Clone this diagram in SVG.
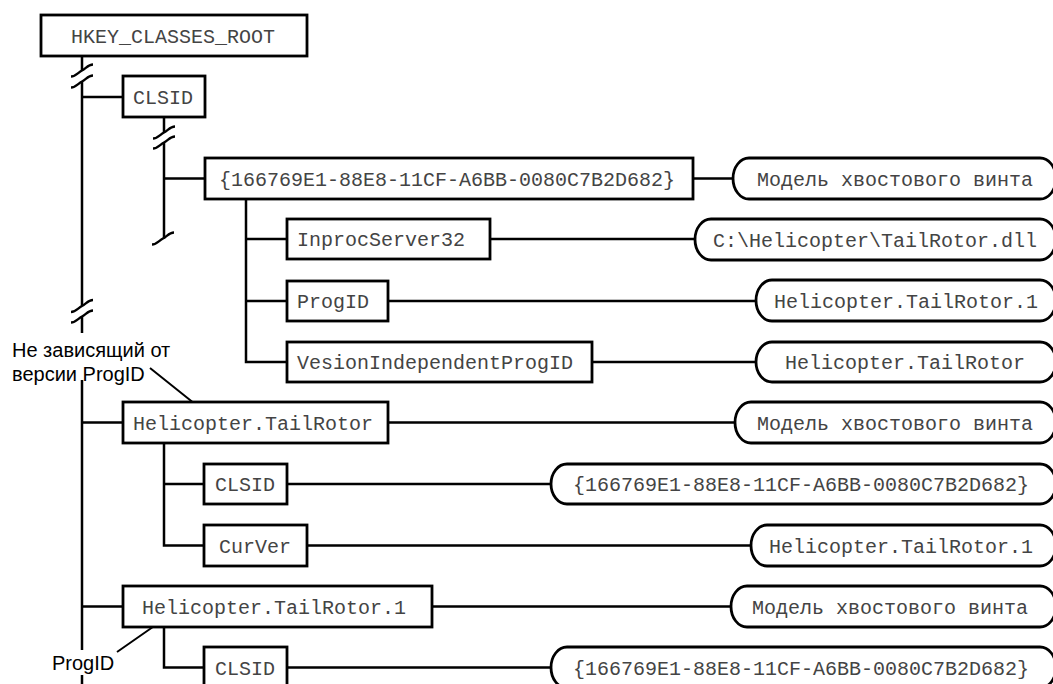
<svg xmlns="http://www.w3.org/2000/svg" width="1053" height="684" viewBox="0 0 1053 684">
<defs>
<style>
.box{fill:#fff;stroke:#000;stroke-width:2.8}
.val{fill:#fff;stroke:#000;stroke-width:2.8}
.t{font-family:"Liberation Mono","Courier New",monospace;font-size:20px;fill:#444}
.lbl{font-family:"Liberation Sans",Arial,sans-serif;font-size:20px;fill:#000}
.ln{fill:none;stroke:#000;stroke-width:2.5}
.br{fill:none;stroke:#000;stroke-width:2.3}
.ld{fill:none;stroke:#000;stroke-width:2}
</style>
<path id="brk" class="br" d="M-11,6 C-6,6 -4,2 0,0 C4,-2 6,-6 11,-6"/>
</defs>
<rect width="1053" height="684" fill="#fff"/>

<g id="connectors">
<path class="ln" d="M82,56 V70 M82,82 V306 M82,317 V333 M82,380 V650 M82,675 V684"/>
<use href="#brk" x="82" y="70.5"/>
<use href="#brk" x="82" y="81.5"/>
<use href="#brk" x="82" y="306"/>
<use href="#brk" x="82" y="316.5"/>
<path class="ln" d="M82,97 H123 M82,422.5 H123 M82,606.5 H123"/>
<path class="ln" d="M164,117 V132 M164,143 V238.5"/>
<use href="#brk" x="164" y="132.5"/>
<use href="#brk" x="164" y="142.5"/>
<use href="#brk" x="163" y="238.5"/>
<path class="ln" d="M164,178.5 H205 M693,178.5 H733"/>
<path class="ln" d="M246,199 V362 H287 M246,239 H287 M246,301 H287"/>
<path class="ln" d="M490,239 H695 M388,301 H756 M592,362 H756"/>
<path class="ln" d="M388,422.5 H735 M164,443 V545.5 H204 M164,484 H204 M287,484 H551 M307,545.5 H751"/>
<path class="ln" d="M432,606.5 H731 M164,627 V667.5 H204 M287,667.5 H551"/>
<path class="ld" d="M150,368 L200,408 M117,652 L160,622"/>
</g>

<g id="n-hkcr"><rect class="box" x="41" y="15" width="266" height="41"/><text class="t" x="71" y="42.5">HKEY_CLASSES_ROOT</text></g>
<g id="n-clsid"><rect class="box" x="123" y="76" width="82" height="41"/><text class="t" x="133" y="103.5">CLSID</text></g>
<g id="n-guid"><rect class="box" x="205" y="158" width="488" height="41"/><text class="t" x="219" y="185.5">{166769E1-88E8-11CF-A6BB-0080C7B2D682}</text></g>
<g id="n-inproc"><rect class="box" x="287" y="219" width="203" height="40"/><text class="t" x="297" y="246">InprocServer32</text></g>
<g id="n-progid"><rect class="box" x="287" y="281" width="101" height="40"/><text class="t" x="297" y="308">ProgID</text></g>
<g id="n-vip"><rect class="box" x="287" y="342" width="305" height="40"/><text class="t" x="297" y="369">VesionIndependentProgID</text></g>
<g id="n-htr"><rect class="box" x="123" y="402" width="265" height="41"/><text class="t" x="133" y="429.5">Helicopter.TailRotor</text></g>
<g id="n-clsid2"><rect class="box" x="204" y="464" width="83" height="40"/><text class="t" x="215" y="491">CLSID</text></g>
<g id="n-curver"><rect class="box" x="204" y="525" width="103" height="41"/><text class="t" x="219" y="552.5">CurVer</text></g>
<g id="n-htr1"><rect class="box" x="123" y="586" width="309" height="41"/><text class="t" x="142" y="613.5">Helicopter.TailRotor.1</text></g>
<g id="n-clsid3"><rect class="box" x="204" y="647" width="83" height="41"/><text class="t" x="215" y="674.5">CLSID</text></g>

<g id="v1"><path class="val" d="M749,158 H1040 A16 20.5 0 0 1 1040,199 H749 A16 20.5 0 0 1 749,158 Z"/><text class="t" x="757" y="185.5">Модель хвостового винта</text></g>
<g id="v2"><path class="val" d="M711,219 H1040 A16 20.5 0 0 1 1040,260 H711 A16 20.5 0 0 1 711,219 Z"/><text class="t" x="713" y="246.5">C:\Helicopter\TailRotor.dll</text></g>
<g id="v3"><path class="val" d="M772,280 H1040 A16 20.5 0 0 1 1040,321 H772 A16 20.5 0 0 1 772,280 Z"/><text class="t" x="774" y="307.5">Helicopter.TailRotor.1</text></g>
<g id="v4"><path class="val" d="M772,342 H1040 A16 20 0 0 1 1040,382 H772 A16 20 0 0 1 772,342 Z"/><text class="t" x="785" y="369">Helicopter.TailRotor</text></g>
<g id="v5"><path class="val" d="M751,402 H1040 A16 20.5 0 0 1 1040,443 H751 A16 20.5 0 0 1 751,402 Z"/><text class="t" x="757" y="429.5">Модель хвостового винта</text></g>
<g id="v6"><path class="val" d="M567,464 H1040 A16 20 0 0 1 1040,504 H567 A16 20 0 0 1 567,464 Z"/><text class="t" x="573" y="491">{166769E1-88E8-11CF-A6BB-0080C7B2D682}</text></g>
<g id="v7"><path class="val" d="M767,525 H1040 A16 20.5 0 0 1 1040,566 H767 A16 20.5 0 0 1 767,525 Z"/><text class="t" x="769" y="552.5">Helicopter.TailRotor.1</text></g>
<g id="v8"><path class="val" d="M747,586 H1040 A16 20.5 0 0 1 1040,627 H747 A16 20.5 0 0 1 747,586 Z"/><text class="t" x="752" y="613.5">Модель хвостового винта</text></g>
<g id="v9"><path class="val" d="M567,647 H1040 A16 20.5 0 0 1 1040,688 H567 A16 20.5 0 0 1 567,647 Z"/><text class="t" x="573" y="674.5">{166769E1-88E8-11CF-A6BB-0080C7B2D682}</text></g>

<g id="label-vip"><text class="lbl" x="12" y="357">Не зависящий от</text><text class="lbl" x="12" y="381">версии ProgID</text></g>
<g id="label-progid"><text class="lbl" x="52" y="670">ProgID</text></g>
</svg>
